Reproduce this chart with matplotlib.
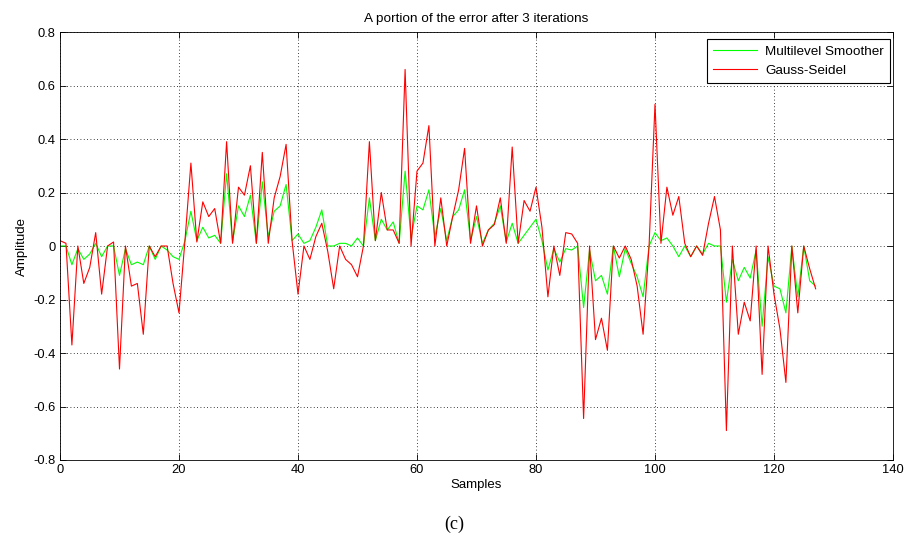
import numpy as np
import matplotlib.pyplot as plt

# error after 3 iterations, samples 0..127
multilevel = [
    0.0, 0.0, -0.07, -0.01, -0.05, -0.03, 0.01, -0.04, 0.0, 0.0,
    -0.11, -0.01, -0.07, -0.06, -0.07, 0.0, -0.05, 0.0, -0.015, -0.04,
    -0.05, 0.02, 0.13, 0.02, 0.07, 0.03, 0.04, 0.01, 0.27, 0.015,
    0.15, 0.11, 0.19, 0.01, 0.24, 0.035, 0.13, 0.15, 0.23, 0.02,
    0.045, 0.01, 0.02, 0.07, 0.135, 0.0, 0.0, 0.01, 0.01, 0.0,
    0.03, 0.0, 0.18, 0.02, 0.10, 0.06, 0.09, 0.01, 0.28, 0.03,
    0.15, 0.135, 0.21, 0.035, 0.14, 0.02, 0.11, 0.135, 0.21, 0.02,
    0.11, 0.01, 0.06, 0.085, 0.15, 0.015, 0.085, 0.01, 0.04, 0.07,
    0.10, 0.02, -0.09, -0.01, -0.06, -0.01, -0.015, 0.0, -0.23, -0.015,
    -0.13, -0.11, -0.18, 0.0, -0.115, -0.01, -0.065, -0.115, -0.19, 0.0,
    0.05, 0.02, 0.03, 0.0, -0.04, 0.0, -0.04, 0.0, -0.03, 0.01,
    0.0, 0.0, -0.21, -0.05, -0.13, -0.08, -0.12, -0.015, -0.30, -0.04,
    -0.15, -0.16, -0.25, 0.0, -0.19, 0.0, -0.13, -0.15,
]
gauss_seidel = [
    0.02, 0.01, -0.37, 0.0, -0.14, -0.08, 0.05, -0.18, 0.0, 0.015,
    -0.46, 0.0, -0.15, -0.14, -0.33, 0.0, -0.04, 0.0, 0.0, -0.14,
    -0.25, 0.02, 0.31, 0.015, 0.165, 0.11, 0.14, 0.01, 0.39, 0.01,
    0.22, 0.19, 0.30, 0.01, 0.35, 0.01, 0.18, 0.26, 0.38, 0.02,
    -0.18, 0.0, -0.05, 0.035, 0.085, -0.02, -0.16, 0.0, -0.05, -0.07,
    -0.115, 0.0, 0.39, 0.02, 0.20, 0.06, 0.06, 0.01, 0.66, 0.0,
    0.28, 0.31, 0.45, 0.0, 0.18, 0.0, 0.11, 0.21, 0.365, 0.01,
    0.15, 0.0, 0.06, 0.08, 0.18, 0.01, 0.37, 0.01, 0.17, 0.13,
    0.22, 0.07, -0.19, 0.0, -0.11, 0.05, 0.045, 0.01, -0.645, 0.0,
    -0.35, -0.27, -0.39, 0.0, -0.045, 0.0, -0.05, -0.15, -0.33, 0.0,
    0.53, 0.01, 0.22, 0.115, 0.185, 0.01, -0.04, 0.0, -0.035, 0.085,
    0.185, 0.06, -0.69, 0.0, -0.33, -0.21, -0.28, 0.0, -0.48, 0.0,
    -0.18, -0.31, -0.51, 0.0, -0.25, 0.0, -0.085, -0.16,
]
samples = np.arange(len(multilevel))

plt.rcParams['font.family'] = ['Liberation Sans', 'DejaVu Sans']
plt.rcParams['font.size'] = 9.5

fig = plt.figure(figsize=(9.09, 5.42), dpi=100)
ax = fig.add_axes([60 / 909, 1 - 460 / 542, 833 / 909, 428 / 542])

ax.plot(samples, multilevel, color=(0, 1, 0), lw=0.8, label='Multilevel Smoother')
ax.plot(samples, gauss_seidel, color=(1, 0, 0), lw=0.8, label='Gauss-Seidel')

ax.set_xlim(0, 140)
ax.set_ylim(-0.8, 0.8)
ax.set_xticks(np.arange(0, 141, 20))
ax.set_yticks(np.arange(-0.8, 0.81, 0.2))
ax.set_yticklabels(['-0.8', '-0.6', '-0.4', '-0.2', '0', '0.2', '0.4', '0.6', '0.8'])
ax.grid(True, color='black', linestyle=(0, (1, 3)), linewidth=0.6)
ax.tick_params(direction='in', top=True, right=True, length=4, width=0.6,
               labelsize=9.3, pad=3)
for s in ax.spines.values():
    s.set_linewidth(0.6)

ax.set_title('A portion of the error after 3 iterations', fontsize=9.7, pad=7)
ax.set_xlabel('Samples', fontsize=9.5, labelpad=2)
ax.set_ylabel('Amplitude', fontsize=9.5, labelpad=4)

leg = ax.legend(loc='upper right', bbox_to_anchor=(0.9964, 0.9836), borderaxespad=0,
                fontsize=9.7, frameon=True, fancybox=False, framealpha=1,
                handlelength=3.3, borderpad=0.45, labelspacing=0.5, handletextpad=0.6)
leg.get_frame().set_edgecolor('black')
leg.get_frame().set_linewidth(0.8)

fig.text(0.5, 1 - 524 / 542, '(c)', ha='center', va='center',
         family=['Liberation Serif', 'DejaVu Serif'], fontsize=13)

fig.savefig('out.png', dpi=100)
